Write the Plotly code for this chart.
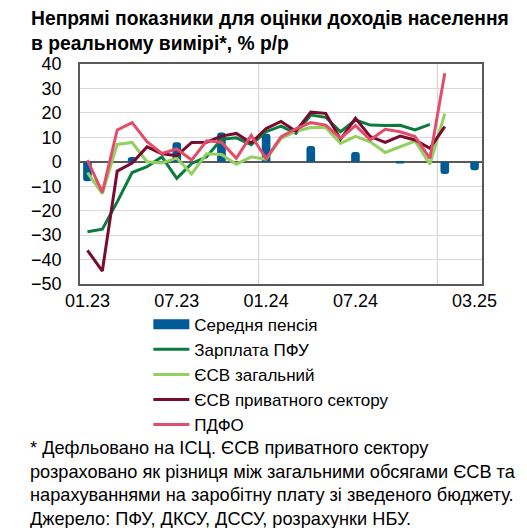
import plotly.graph_objects as go

# months on the x axis
months = ["01.23", "02.23", "03.23", "04.23", "05.23", "06.23", "07.23", "08.23", "09.23",
          "10.23", "11.23", "12.23", "01.24", "02.24", "03.24", "04.24", "05.24", "06.24",
          "07.24", "08.24", "09.24", "10.24", "11.24", "12.24", "01.25", "02.25", "03.25"]
tick_labels = ["01.23", "07.23", "01.24", "07.24", "03.25"]

# % y/y, real terms
pension = [-8, None, None, 2, None, None, 8, None, None, 12, None, None, 11.5, None, None,
           6.5, None, None, 4, None, None, -0.7, None, None, -5, None, -3.5]
salary_pfu = [-28.6, -27.6, -16.4, -4.4, -2, 2, -6.8, -0.7, 2, 9.2, 9.8, 7, 12.3, 14.6, 11.6,
              19.1, 18.2, 12.3, 17.1, 15, 14.8, 14.9, 13, 15.3, None, None, None]
esv_total = [-4.4, -13, 7.1, 7.9, 0, -0.5, 1.5, -5, 3.3, 3, -1, 2, 1, 9.5, 12.5,
             14, 14, 7.5, 10.4, 8.2, 3.8, 6.2, 8.5, -1, 19.7, None, None]
esv_private = [-36.2, -44.7, -3.8, -0.5, 6.1, 3.3, 2.5, 7.9, 8, 10.5, 11.6, 7.7, 13.6, 16.5, 12.5,
               20.3, 19.8, 9.2, 17.8, 10.3, 7.9, 10.5, 8.9, 5.5, 14.4, None, None]
pdfo = [0.7, -12.5, 13, 16, 8.2, 3.4, 5.3, 0.7, 8.6, 8, 1.4, 10.8, 1.2, 10.2, 13.5,
        16, 15, 9.6, 14.8, 9, 13.3, 12.3, 10.3, 1.4, 36.2, None, None]

FONT = "Liberation Sans, Arial, sans-serif"
BLUE = "#005A96"

fig = go.Figure()

# pension bars (legend entry drawn by a dummy thick line below)
fig.add_trace(go.Bar(x=months, y=pension, marker=dict(color=BLUE, line=dict(width=0)),
                     width=0.58, showlegend=False, name="Середня пенсія"))
fig.add_trace(go.Scatter(x=[None], y=[None], mode="lines", name="Середня пенсія",
                         line=dict(color=BLUE, width=11)))

lines = [
    ("Зарплата ПФУ", salary_pfu, "#0B7B3E"),
    ("ЄСВ загальний", esv_total, "#92D060"),
    ("ЄСВ приватного сектору", esv_private, "#7A0B2F"),
    ("ПДФО", pdfo, "#E34D6B"),
]
for name, vals, col in lines:
    fig.add_trace(go.Scatter(x=months, y=vals, mode="lines", name=name,
                             line=dict(color=col, width=3), connectgaps=False))

# year separators
for xv in [11.5, 23.5]:
    fig.add_vline(x=xv, line=dict(color="#D0D0D0", width=1), layer="below")

fig.update_layout(
    width=527, height=528,
    margin=dict(l=80, r=45, t=64, b=244),
    paper_bgcolor="white", plot_bgcolor="white",
    font=dict(family=FONT, size=18, color="black"),
    bargap=0.45, barcornerradius=3,
    showlegend=True,
    legend=dict(x=0.17, xanchor="left", y=-0.103, yanchor="top",
                font=dict(family=FONT, size=17), bgcolor="rgba(0,0,0,0)",
                itemwidth=36, tracegroupgap=0),
    xaxis=dict(type="category", categoryorder="array", categoryarray=months,
               tickvals=tick_labels, ticktext=tick_labels, range=[-0.5, 26.5],
               showgrid=False, showline=True, linecolor="#595959", linewidth=1.5, mirror=True,
               ticks="", tickfont=dict(size=18), zeroline=False),
    yaxis=dict(range=[-50, 40], dtick=10, showgrid=True, gridcolor="#D9D9D9", gridwidth=1,
               showline=True, linecolor="#595959", linewidth=1.5, mirror=True,
               zeroline=True, zerolinecolor="#595959", zerolinewidth=1.5,
               ticks="", tickfont=dict(size=18), ticklabelstandoff=13),
)

# title
fig.add_annotation(
    text="<b>Непрямі показники для оцінки доходів населення<br>в реальному вимірі*, % р/р</b>",
    xref="paper", yref="paper", x=-0.126, y=1.262, xanchor="left", yanchor="top",
    align="left", showarrow=False, font=dict(family=FONT, size=19.3, color="black"),
)

# footnote
fig.add_annotation(
    text="* Дефльовано на ІСЦ. ЄСВ приватного сектору<br>"
         "розраховано як різниця між загальними обсягами ЄСВ та<br>"
         "нарахуваннями на заробітну плату зі зведеного бюджету.<br>"
         "Джерело: ПФУ, ДКСУ, ДССУ, розрахунки НБУ.",
    xref="paper", yref="paper", x=-0.13, y=-0.69, xanchor="left", yanchor="top",
    align="left", showarrow=False, font=dict(family=FONT, size=18.2, color="black"),
)

fig.write_html("out.html", config={"displayModeBar": False},
               post_script="document.body.style.margin='0';")
